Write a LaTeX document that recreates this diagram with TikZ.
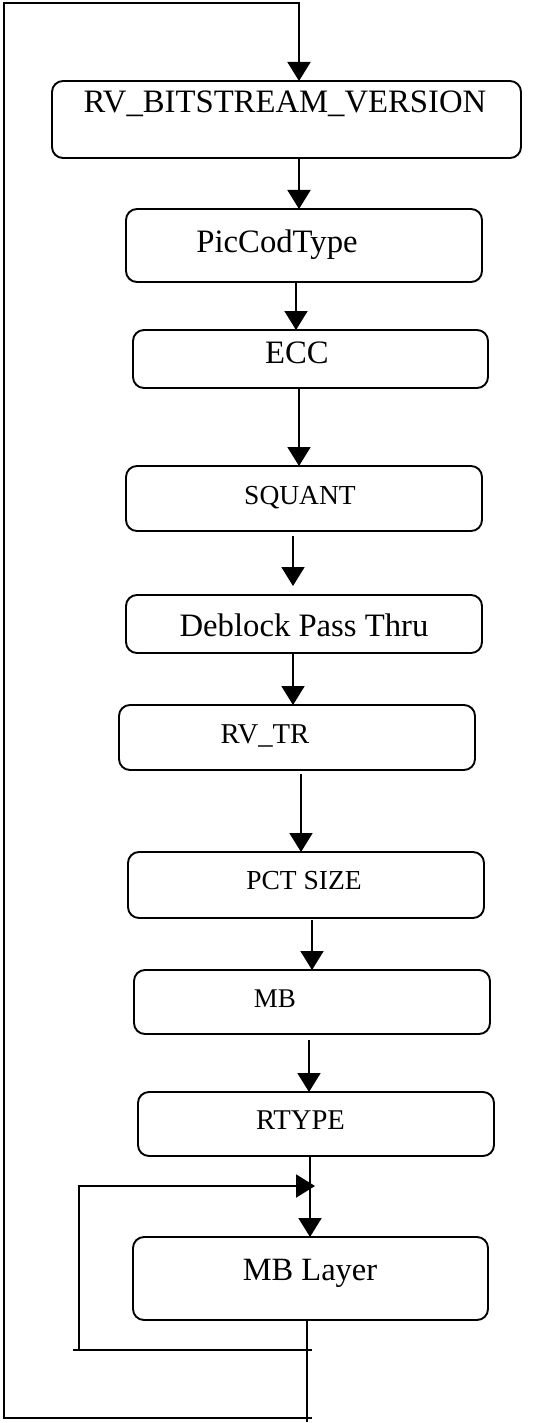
\documentclass[tikz,border=0pt]{standalone}
\usepackage{fontspec}
\setmainfont{Liberation Serif}
\usetikzlibrary{arrows.meta}
\begin{document}
\begin{tikzpicture}[x=1pt,y=-1pt,
  line width=1.9pt,
  box/.style={draw, rounded corners=11pt, inner sep=0pt, outer sep=0pt},
  lbig/.style={anchor=base, inner sep=0pt, font=\fontsize{32.7}{39}\selectfont},
  lsmall/.style={anchor=base, inner sep=0pt, font=\fontsize{28}{33}\selectfont},
  arr/.style={-{Triangle[length=19pt,width=23pt]}},
  wire/.style={line cap=rect}]
\path[fill=white, use as bounding box] (0,0) rectangle (540,1423);

% boxes
\node[box, minimum width=469pt, minimum height=77pt] (b1) at (286.5,119.5) {};
\node[box, minimum width=356pt, minimum height=73pt] (b2) at (304,245.5) {};
\node[box, minimum width=355pt, minimum height=58pt] (b3) at (310.5,359) {};
\node[box, minimum width=356pt, minimum height=65pt] (b4) at (304,498.5) {};
\node[box, minimum width=356pt, minimum height=58pt] (b5) at (304,624) {};
\node[box, minimum width=356pt, minimum height=65pt] (b6) at (297,737.5) {};
\node[box, minimum width=356pt, minimum height=66pt] (b7) at (306,885) {};
\node[box, minimum width=356pt, minimum height=64pt] (b8) at (312,1002) {};
\node[box, minimum width=356pt, minimum height=64pt] (b9) at (316,1124) {};
\node[box, minimum width=355pt, minimum height=83pt] (b10) at (310.5,1278.5) {};

% labels
\node[lbig] (t1) at (285,113) {RV\_BITSTREAM\_VERSION};
\node[lbig] (t2) at (277,252) {PicCodType};
\node[lbig] (t3) at (297,363) {ECC};
\node[lsmall, font=\fontsize{27.5}{33}\selectfont] (t4) at (300,504) {SQUANT};
\node[lbig] (t5) at (304,636) {Deblock Pass Thru};
\node[lsmall, font=\fontsize{28.7}{34}\selectfont] (t6) at (265,743) {RV\_TR};
\node[lsmall, font=\fontsize{27.5}{33}\selectfont] (t7) at (304,889) {PCT SIZE};
\node[lsmall, font=\fontsize{27}{32}\selectfont] (t8) at (275,1007) {MB};
\node[lsmall, font=\fontsize{28.6}{34}\selectfont] (t9) at (300.5,1129) {RTYPE};
\node[lbig, font=\fontsize{32.5}{39}\selectfont] (t10) at (310,1280) {MB Layer};

% x positions of connectors
\coordinate (x299) at (299,0);
\coordinate (x296) at (296,0);
\coordinate (x293) at (293,0);
\coordinate (x301) at (301,0);
\coordinate (x312) at (312,0);
\coordinate (x309) at (309,0);
\coordinate (x310) at (310,0);
\coordinate (x307) at (307,0);

% chain of arrows
\draw[arr] (b1.south -| x299) -- (b2.north -| x299);
\draw[arr] (b2.south -| x296) -- (b3.north -| x296);
\draw[arr] (b3.south -| x299) -- (b4.north -| x299);
\draw[arr, shorten <=5pt, shorten >=9pt] (b4.south -| x293) -- (b5.north -| x293);
\draw[arr] (b5.south -| x293) -- (b6.north -| x293);
\draw[arr, shorten <=4pt] (b6.south -| x301) -- (b7.north -| x301);
\draw[arr, shorten <=2pt] (b7.south -| x312) -- (b8.north -| x312);
\draw[arr, shorten <=6pt] (b8.south -| x309) -- (b9.north -| x309);
\draw[arr] (b9.south -| x310) -- (b10.north -| x310);

% inner loop
\coordinate (iL1) at (73,1350);
\coordinate (iR1) at (312,1350);
\coordinate (iC) at (79,1350);
\coordinate (iT) at (79,1186);
\coordinate (iE) at (315,1186);
\draw (iL1) -- (iR1);
\draw[arr] (iC) -- (iT) -- (iE);

% outer loop
\coordinate (oD) at (307,1422);
\coordinate (oB) at (312,1418);
\coordinate (oBL) at (4,1418);
\coordinate (oTL) at (4,3);
\coordinate (oT) at (299,3);
\draw (b10.south -| x307) -- (oD);
\draw[arr] (oB) -- (oBL) -- (oTL) -- (oT) -- (b1.north -| x299);
\end{tikzpicture}
\end{document}
